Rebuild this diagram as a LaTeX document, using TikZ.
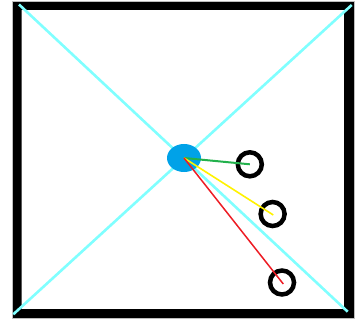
\documentclass[tikz,border=0pt]{standalone}
\usepackage{tikz}
\usetikzlibrary{shapes.geometric}

\definecolor{paleaqua}{RGB}{128,255,255}
\definecolor{hubblue}{RGB}{0,162,232}
\definecolor{linkgreen}{RGB}{34,177,76}
\definecolor{linkyellow}{RGB}{255,242,0}
\definecolor{linkred}{RGB}{237,28,36}

\tikzset{
  ring/.style={circle, draw=black, line width=4.5, minimum size=24, inner sep=0pt},
  hub/.style={ellipse, fill=hubblue, minimum width=34, minimum height=28, inner sep=0pt},
  diag/.style={color=paleaqua, line width=2.6}
}

\begin{document}
\begin{tikzpicture}[x=1pt,y=1pt,yscale=-1,xscale=1]
\useasboundingbox (0,0) rectangle (355,320);
%Shape: Frame
\fill [black, even odd rule] (12,1.5) rectangle (354.5,318.5) (21.7,10) rectangle (344,309);
\draw [color={rgb, 255:red, 190; green, 190; blue, 190}, line width=0.5] (12,1.5) rectangle (354.5,318.5);
%Straight Lines
\draw [diag] (19,4.5) -- (347.7,311.7);
\draw [diag] (351.7,5) -- (13.3,314.3);
%Shape: Ellipse
\node [hub] (hub) at (184,158) {};
%Shape: Circle
\node [ring] (near) at (249.8,164.3) {};
\node [ring] (mid) at (272.6,214) {};
\node [ring] (far) at (282,282.5) {};
%Straight Lines
\draw [color=linkgreen, line width=2] (hub.center) -- (near.center);
\draw [color=linkyellow, line width=1.6] (hub.center) -- ([shift={(0.7,1)}]mid.center);
\draw [color=linkred, line width=1.5] (hub.center) -- ([shift={(1.3,1.5)}]far.center);
\end{tikzpicture}
\end{document}
